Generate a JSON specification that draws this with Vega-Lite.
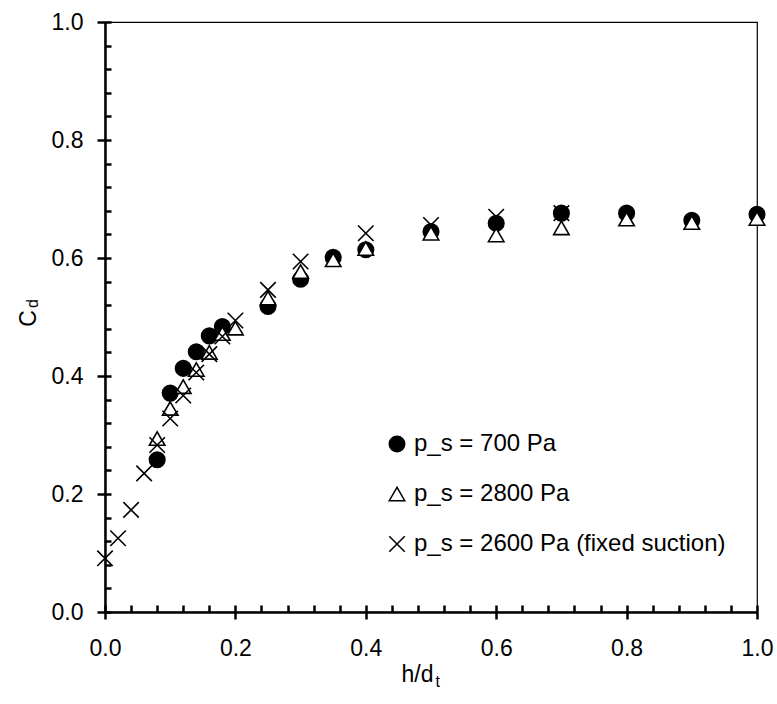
{
  "$schema": "https://vega.github.io/schema/vega-lite/v6.json",
  "width": 652,
  "height": 590,
  "autosize": {"type": "none"},
  "padding": {"left": 105, "top": 22, "right": 20, "bottom": 92},
  "background": "white",
  "config": {
    "font": "Liberation Sans",
    "view": {"stroke": "black", "strokeWidth": 1.2},
    "axis": {"grid": false, "domainColor": "black", "tickColor": "black", "labelColor": "black", "titleColor": "black", "titleFontWeight": "normal", "labelFont": "Liberation Sans", "titleFont": "Liberation Sans"}
  },
  "data": {
    "values": [
      {"h": 0.08, "cd": 0.258, "series": "p_s = 700 Pa"},
      {"h": 0.10, "cd": 0.371, "series": "p_s = 700 Pa"},
      {"h": 0.12, "cd": 0.413, "series": "p_s = 700 Pa"},
      {"h": 0.14, "cd": 0.441, "series": "p_s = 700 Pa"},
      {"h": 0.16, "cd": 0.468, "series": "p_s = 700 Pa"},
      {"h": 0.18, "cd": 0.484, "series": "p_s = 700 Pa"},
      {"h": 0.25, "cd": 0.518, "series": "p_s = 700 Pa"},
      {"h": 0.30, "cd": 0.564, "series": "p_s = 700 Pa"},
      {"h": 0.35, "cd": 0.601, "series": "p_s = 700 Pa"},
      {"h": 0.40, "cd": 0.614, "series": "p_s = 700 Pa"},
      {"h": 0.50, "cd": 0.645, "series": "p_s = 700 Pa"},
      {"h": 0.60, "cd": 0.659, "series": "p_s = 700 Pa"},
      {"h": 0.70, "cd": 0.676, "series": "p_s = 700 Pa"},
      {"h": 0.80, "cd": 0.676, "series": "p_s = 700 Pa"},
      {"h": 0.90, "cd": 0.664, "series": "p_s = 700 Pa"},
      {"h": 1.00, "cd": 0.674, "series": "p_s = 700 Pa"},
      {"h": 0.08, "cd": 0.294, "series": "p_s = 2800 Pa"},
      {"h": 0.10, "cd": 0.345, "series": "p_s = 2800 Pa"},
      {"h": 0.12, "cd": 0.382, "series": "p_s = 2800 Pa"},
      {"h": 0.14, "cd": 0.411, "series": "p_s = 2800 Pa"},
      {"h": 0.16, "cd": 0.440, "series": "p_s = 2800 Pa"},
      {"h": 0.18, "cd": 0.472, "series": "p_s = 2800 Pa"},
      {"h": 0.20, "cd": 0.481, "series": "p_s = 2800 Pa"},
      {"h": 0.25, "cd": 0.532, "series": "p_s = 2800 Pa"},
      {"h": 0.30, "cd": 0.577, "series": "p_s = 2800 Pa"},
      {"h": 0.35, "cd": 0.597, "series": "p_s = 2800 Pa"},
      {"h": 0.40, "cd": 0.616, "series": "p_s = 2800 Pa"},
      {"h": 0.50, "cd": 0.642, "series": "p_s = 2800 Pa"},
      {"h": 0.60, "cd": 0.639, "series": "p_s = 2800 Pa"},
      {"h": 0.70, "cd": 0.651, "series": "p_s = 2800 Pa"},
      {"h": 0.80, "cd": 0.666, "series": "p_s = 2800 Pa"},
      {"h": 0.90, "cd": 0.660, "series": "p_s = 2800 Pa"},
      {"h": 1.00, "cd": 0.667, "series": "p_s = 2800 Pa"},
      {"h": 0.00, "cd": 0.091, "series": "p_s = 2600 Pa (fixed suction)"},
      {"h": 0.02, "cd": 0.125, "series": "p_s = 2600 Pa (fixed suction)"},
      {"h": 0.04, "cd": 0.173, "series": "p_s = 2600 Pa (fixed suction)"},
      {"h": 0.06, "cd": 0.235, "series": "p_s = 2600 Pa (fixed suction)"},
      {"h": 0.08, "cd": 0.283, "series": "p_s = 2600 Pa (fixed suction)"},
      {"h": 0.10, "cd": 0.328, "series": "p_s = 2600 Pa (fixed suction)"},
      {"h": 0.12, "cd": 0.367, "series": "p_s = 2600 Pa (fixed suction)"},
      {"h": 0.14, "cd": 0.406, "series": "p_s = 2600 Pa (fixed suction)"},
      {"h": 0.16, "cd": 0.437, "series": "p_s = 2600 Pa (fixed suction)"},
      {"h": 0.18, "cd": 0.467, "series": "p_s = 2600 Pa (fixed suction)"},
      {"h": 0.20, "cd": 0.494, "series": "p_s = 2600 Pa (fixed suction)"},
      {"h": 0.25, "cd": 0.546, "series": "p_s = 2600 Pa (fixed suction)"},
      {"h": 0.30, "cd": 0.594, "series": "p_s = 2600 Pa (fixed suction)"},
      {"h": 0.40, "cd": 0.642, "series": "p_s = 2600 Pa (fixed suction)"},
      {"h": 0.50, "cd": 0.656, "series": "p_s = 2600 Pa (fixed suction)"},
      {"h": 0.60, "cd": 0.670, "series": "p_s = 2600 Pa (fixed suction)"},
      {"h": 0.70, "cd": 0.676, "series": "p_s = 2600 Pa (fixed suction)"}
    ]
  },
  "layer": [
    {
      "mark": {"type": "point", "opacity": 0},
      "encoding": {
        "x": {
          "field": "h", "type": "quantitative",
          "scale": {"domain": [0, 1], "nice": false},
          "axis": {
            "orient": "bottom", "offset": -7, "zindex": 1,
            "values": [0, 0.04, 0.08, 0.12, 0.16, 0.2, 0.24, 0.28, 0.32, 0.36, 0.4, 0.44, 0.48, 0.52, 0.56, 0.6, 0.64, 0.68, 0.72, 0.76, 0.8, 0.84, 0.88, 0.92, 0.96, 1],
            "tickSize": 7, "tickWidth": 2.5, "tickColor": "#000000", "tickOpacity": 1, "labels": false, "domain": false,
            "title": "t", "titleFontSize": 16, "titleX": 330, "titleY": 81,
            "titleAlign": "left", "titleBaseline": "alphabetic", "titleAngle": 0
          }
        },
        "y": {
          "field": "cd", "type": "quantitative",
          "scale": {"domain": [0, 1], "nice": false},
          "axis": {
            "orient": "left", "offset": -6, "zindex": 1,
            "values": [0, 0.04, 0.08, 0.12, 0.16, 0.2, 0.24, 0.28, 0.32, 0.36, 0.4, 0.44, 0.48, 0.52, 0.56, 0.6, 0.64, 0.68, 0.72, 0.76, 0.8, 0.84, 0.88, 0.92, 0.96, 1],
            "tickSize": 6, "tickWidth": 2.5, "tickColor": "#000000", "tickOpacity": 1, "labels": false, "domain": false,
            "title": "d", "titleFontSize": 16, "titleX": -74, "titleY": 281,
            "titleAlign": "center", "titleBaseline": "alphabetic", "titleAngle": -90
          }
        }
      }
    },
    {
      "mark": {"type": "point", "filled": true, "stroke": "black", "strokeWidth": 1.6, "size": 240, "opacity": 1},
      "encoding": {
        "x": {
          "field": "h", "type": "quantitative",
          "scale": {"domain": [0, 1], "nice": false},
          "axis": {
            "orient": "bottom", "zindex": 1,
            "values": [0, 0.2, 0.4, 0.6, 0.8, 1], "format": ".1f",
            "tickSize": 7, "tickWidth": 2.5, "tickColor": "#000000", "labelPadding": 18, "labelFontSize": 23, "labelFlush": false,
            "domainWidth": 2.5, "domainColor": "#000000",
            "title": "h/d", "titleFontSize": 23, "titleX": 296, "titleY": 69,
            "titleAlign": "left", "titleBaseline": "alphabetic", "titleAngle": 0
          }
        },
        "y": {
          "field": "cd", "type": "quantitative",
          "scale": {"domain": [0, 1], "nice": false},
          "axis": {
            "orient": "left", "zindex": 1,
            "values": [0, 0.2, 0.4, 0.6, 0.8, 1], "format": ".1f",
            "tickSize": 8, "tickWidth": 2.5, "tickColor": "#000000", "labelPadding": 14, "labelFontSize": 23,
            "domainWidth": 2.5, "domainColor": "#000000",
            "title": "C", "titleFontSize": 23, "titleX": -70, "titleY": 296,
            "titleAlign": "center", "titleBaseline": "alphabetic", "titleAngle": -90
          }
        },
        "shape": {
          "field": "series", "type": "nominal",
          "scale": {"domain": ["p_s = 700 Pa", "p_s = 2800 Pa", "p_s = 2600 Pa (fixed suction)"], "range": ["circle", "triangle-up", "M-1,-1L1,1M-1,1L1,-1"]},
          "legend": {"title": null, "orient": "none", "legendX": 280, "legendY": 410, "labelFontSize": 24, "labelColor": "black", "labelFont": "Liberation Sans", "labelLimit": 500, "symbolSize": 240, "rowPadding": 26, "labelOffset": 5,
            "encode": {"symbols": {"update": {"stroke": {"value": "black"}, "strokeWidth": {"value": 1.6}}}}}
        },
        "fill": {
          "field": "series", "type": "nominal",
          "scale": {"domain": ["p_s = 700 Pa", "p_s = 2800 Pa", "p_s = 2600 Pa (fixed suction)"], "range": ["black", "white", "transparent"]},
          "legend": {"title": null, "orient": "none", "legendX": 280, "legendY": 410, "labelFontSize": 24, "labelColor": "black", "labelFont": "Liberation Sans", "labelLimit": 500, "symbolSize": 240, "rowPadding": 26, "labelOffset": 5,
            "encode": {"symbols": {"update": {"stroke": {"value": "black"}, "strokeWidth": {"value": 1.6}}}}}
        }
      }
    }
  ],
  "resolve": {"axis": {"x": "independent", "y": "independent"}}
}
